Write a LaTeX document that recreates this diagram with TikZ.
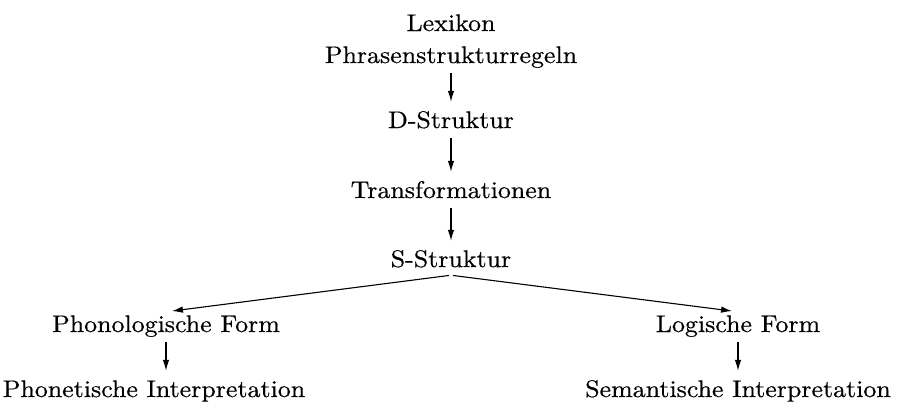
\documentclass[tikz,border=0pt]{standalone}
\usepackage{fontspec}
\setmainfont{lmroman10-regular.otf}[FakeStretch=1.08, FakeBold=0.5]
\usetikzlibrary{arrows.meta, positioning}

\begin{document}
\begin{tikzpicture}[
    x=1pt, y=-1pt,
    >={Latex[length=11pt,width=6.5pt]},
    % --- Stile ---
    % Ebene: reiner Text, gleiche Hoehe/Tiefe fuer gerade Pfeile
    level/.style={inner sep=3pt, text height=17pt, text depth=5pt, anchor=base,
                  font=\fontsize{24}{32}\selectfont},
    % Pfeile
    flow/.style={->, line width=1.1pt, shorten <=2pt, shorten >=6pt}
]
\useasboundingbox (0,0) rectangle (898,405);

% ==================== 1. Mittlere Spalte ====================
\node[level] (lex)   at (451,31)  {Lexikon};
\node[level] (phr)   at (451,63)  {Phrasenstrukturregeln};
\node[level] (dstr)  at (451,128) {D-Struktur};
\node[level] (trans) at (451,198) {Transformationen};
\node[level] (sstr)  at (451,267) {S-Struktur};

% ==================== 2. Zwei Zweige ====================
\node[level] (phon)   at (166,332) {Phonologische Form};
\node[level] (phonet) at (154,397) {Phonetische Interpretation};
\node[level] (log)    at (738,332) {Logische Form};
\node[level] (sem)    at (738,397) {Semantische Interpretation};

% ==================== 3. Pfeile ====================
\draw[flow] (phr.south) -- (dstr.north);
\draw[flow] (dstr.south) -- (trans.north);
\draw[flow] (trans.south) -- (sstr.north);

\draw[flow] (sstr.south) -- (phon.north);
\draw[flow] (sstr.south) -- (log.north);

\draw[flow] (phon.south) -- (phon.south |- phonet.north);
\draw[flow] (log.south) -- (sem.north);

\end{tikzpicture}
\end{document}
